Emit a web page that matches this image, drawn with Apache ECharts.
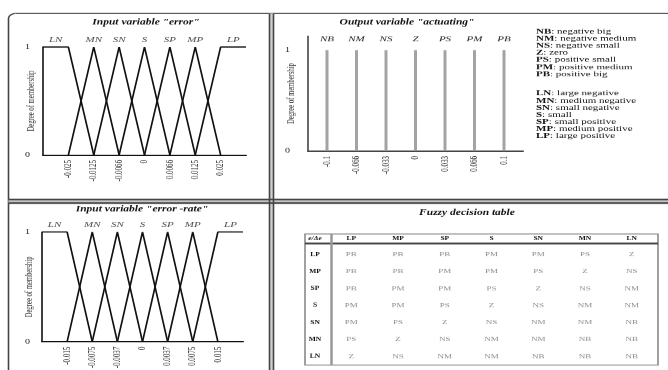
<!DOCTYPE html>
<html>
<head>
<meta charset="utf-8">
<script src="https://cdn.jsdelivr.net/npm/echarts@6/dist/echarts.min.js"></script>
<style>
  html, body { margin: 0; padding: 0; background: #fff; overflow: hidden; }
  #wrap { width: 668px; height: 370px; overflow: hidden; }
  #chart { width: 668px; transform-origin: 0 0; }
</style>
</head>
<body>
<div id="wrap"><div id="chart"></div></div>
<script>
// ---- data ----
const errorTerms = ['LN', 'MN', 'SN', 'S', 'SP', 'MP', 'LP'];
const errorTicks = ['-0.025', '-0.0125', '-0.0066', '0', '0.0066', '0.0125', '0.025'];
const rateTicks = ['-0.015', '-0.0075', '-0.0037', '0', '0.0037', '0.0075', '0.015'];
// membership function vertices: [tick position, degree]
const termVertices = [
  [[0, 1], [1, 1], [2, 0]],
  [[1, 0], [2, 1], [3, 0]],
  [[2, 0], [3, 1], [4, 0]],
  [[3, 0], [4, 1], [5, 0]],
  [[4, 0], [5, 1], [6, 0]],
  [[5, 0], [6, 1], [7, 0]],
  [[6, 0], [7, 1], [8, 1]]
];
const termLabelAt = [0.5, 2, 3, 4, 5, 6, 7.5];

const outputTerms = ['NB', 'NM', 'NS', 'Z', 'PS', 'PM', 'PB'];
const outputTicks = ['-0.1', '-0.066', '-0.033', '0', '0.033', '0.066', '0.1'];
const outputDegree = [1, 1, 1, 1, 1, 1, 1];

const outputLegend = [
  ['NB', 'negative big'], ['NM', 'negative medium'], ['NS', 'negative small'],
  ['Z', 'zero'], ['PS', 'positive small'], ['PM', 'positive medium'], ['PB', 'positive big']
];
const inputLegend = [
  ['LN', 'large negative'], ['MN', 'medium negative'], ['SN', 'small negative'],
  ['S', 'small'], ['SP', 'small positive'], ['MP', 'medium positive'], ['LP', 'large positive']
];

const tableCols = ['LP', 'MP', 'SP', 'S', 'SN', 'MN', 'LN'];
const tableRows = ['LP', 'MP', 'SP', 'S', 'SN', 'MN', 'LN'];
const ruleTable = [
  ['PB', 'PB', 'PB', 'PM', 'PM', 'PS', 'Z'],
  ['PB', 'PB', 'PM', 'PM', 'PS', 'Z', 'NS'],
  ['PB', 'PM', 'PM', 'PS', 'Z', 'NS', 'NM'],
  ['PM', 'PM', 'PS', 'Z', 'NS', 'NM', 'NM'],
  ['PM', 'PS', 'Z', 'NS', 'NM', 'NM', 'NB'],
  ['PS', 'Z', 'NS', 'NM', 'NM', 'NB', 'NB'],
  ['Z', 'NS', 'NM', 'NM', 'NB', 'NB', 'NB']
];

// ---- layout ----
// The figure is drawn taller and compressed vertically as a whole.
const SQ = 0.7;
const sy = v => v / SQ;
const chartEl = document.getElementById('chart');
chartEl.style.height = (370 / SQ) + 'px';
chartEl.style.transform = 'scaleY(' + SQ + ')';

const serif = '"Liberation Serif", "Times New Roman", serif';
const ink = '#111';

const chart = echarts.init(chartEl, null, { renderer: 'canvas' });

function memX(gi, ticks, min, max, lineColor) {
  return {
    gridIndex: gi, type: 'value', min: min, max: max,
    axisLine: { show: true, onZero: false, lineStyle: { color: lineColor, width: 2.2 } },
    axisTick: { show: false }, splitLine: { show: false },
    axisLabel: {
      customValues: [1, 2, 3, 4, 5, 6, 7],
      formatter: v => ticks[Math.round(v) - 1],
      rotate: 90, margin: 7, fontSize: 10, fontFamily: serif, color: '#222'
    }
  };
}
function memY(gi, max, nameGap, labelMargin, lineColor) {
  return {
    gridIndex: gi, type: 'value', min: 0, max: max,
    axisLine: { show: true, onZero: false, lineStyle: { color: lineColor, width: 1.6 } },
    axisTick: { show: false }, splitLine: { show: false },
    axisLabel: { customValues: [0, 1], margin: labelMargin, fontSize: 10, fontFamily: serif, color: '#222' },
    name: 'Degree of membership', nameLocation: 'middle', nameGap: nameGap,
    nameMoveOverlap: false,
    nameTextStyle: { fontSize: 9.5, fontFamily: serif, color: '#333' }
  };
}

const series = [];
function membershipSeries(gi) {
  termVertices.forEach(pts => {
    series.push({
      type: 'line', xAxisIndex: gi, yAxisIndex: gi, data: pts,
      symbol: 'none', clip: false, silent: true,
      lineStyle: { color: ink, width: 1.7 }
    });
  });
  series.push({
    type: 'scatter', xAxisIndex: gi, yAxisIndex: gi, clip: false, silent: true,
    data: termLabelAt.map((x, i) => [x, 1, errorTerms[i]]),
    symbolSize: 1, itemStyle: { color: 'rgba(0,0,0,0)' },
    label: {
      show: true, position: 'top', distance: 4, formatter: p => p.value[2],
      fontStyle: 'italic', fontSize: 11, fontFamily: serif, color: '#222'
    }
  });
}
membershipSeries(0);
membershipSeries(2);

series.push({
  type: 'bar', xAxisIndex: 1, yAxisIndex: 1, silent: true, z: 3,
  data: outputDegree.map((v, i) => [i + 1, v]),
  barWidth: 3, itemStyle: { color: '#a3a3a3' },
  label: {
    show: true, position: 'top', distance: 10,
    formatter: p => outputTerms[p.dataIndex],
    fontStyle: 'italic', fontSize: 11, fontFamily: serif, color: '#222'
  }
});

series.push({
  type: 'scatter', xAxisIndex: 3, yAxisIndex: 3, silent: true,
  data: ruleTable.flatMap((row, r) => row.map((t, c) => [c, r, t])),
  symbolSize: 1, itemStyle: { color: 'rgba(0,0,0,0)' },
  label: {
    show: true, position: 'inside', formatter: p => p.value[2],
    fontSize: 9, fontFamily: serif, color: '#707070'
  }
});

// ---- frame, dividers, titles, legend ----
const graphics = [];
graphics.push({ type: 'rect', z: 50, shape: { x: 8.5, y: sy(13.5), width: 720, height: 800, r: [7, 0, 0, 0] },
  style: { fill: 'none', stroke: '#444', lineWidth: 1.6 } });
graphics.push({ type: 'rect', z: 50, shape: { x: 269, y: sy(13.5), width: 5, height: 800 }, style: { fill: '#d0d0d0' } });
graphics.push({ type: 'rect', z: 50, shape: { x: 8.5, y: sy(199.5), width: 720, height: sy(3.5) }, style: { fill: '#d0d0d0' } });
[269.5, 273.5].forEach(x => graphics.push({ type: 'line', z: 51,
  shape: { x1: x, y1: sy(13.5), x2: x, y2: 800 }, style: { stroke: '#444', lineWidth: 1.6 } }));
[199.5, 203].forEach(yy => graphics.push({ type: 'line', z: 51,
  shape: { x1: 8.5, y1: sy(yy), x2: 720, y2: sy(yy) }, style: { stroke: '#444', lineWidth: 2.3 } }));

// table rules
graphics.push({ type: 'rect', z: 40, shape: { x: 305, y: sy(234), width: 353, height: sy(131) },
  style: { fill: 'none', stroke: '#8a8a8a', lineWidth: 1.6 } });
graphics.push({ type: 'line', z: 41, shape: { x1: 305, y1: sy(243.5), x2: 658, y2: sy(243.5) },
  style: { stroke: '#444', lineWidth: 2.6 } });
graphics.push({ type: 'line', z: 41, shape: { x1: 331.5, y1: sy(234), x2: 331.5, y2: sy(365) },
  style: { stroke: '#999', lineWidth: 2.5 } });
graphics.push({ type: 'text', z: 41, x: 315, y: sy(238.5),
  style: { text: 'e/Δe', font: 'italic bold 7.5px ' + serif, fill: ink, align: 'center', verticalAlign: 'middle' } });

const titleFont = 'italic bold 11.5px ' + serif;
[
  ['Input variable "error"', 146, 22.5],
  ['Output variable "actuating"', 407, 22.5],
  ['Input variable "error -rate"', 142, 209.5],
  ['Fuzzy decision table', 467, 212.5]
].forEach(t => graphics.push({ type: 'text', z: 41, x: t[1], y: sy(t[2]),
  style: { text: t[0], font: titleFont, fill: ink, align: 'center', verticalAlign: 'middle' } }));

function legendBlock(items, y0) {
  items.forEach((it, i) => graphics.push({
    type: 'text', z: 41, x: 536, y: sy(y0 + 7.1 * i),
    style: {
      text: '{b|' + it[0] + '}: ' + it[1],
      font: '11px ' + serif, fill: ink, verticalAlign: 'middle',
      rich: { b: { font: 'bold 11px ' + serif, fill: ink } }
    }
  }));
}
legendBlock(outputLegend, 31.5);
legendBlock(inputLegend, 93.5);

chart.setOption({
  animation: false,
  backgroundColor: '#fff',
  grid: [
    { left: 43, top: sy(47), width: 203, height: sy(108) },
    { left: 308, top: sy(36), width: 215, height: sy(115) },
    { left: 42, top: sy(232), width: 201, height: sy(110) },
    { left: 328, top: sy(246), width: 327, height: sy(119) }
  ],
  xAxis: [
    memX(0, errorTicks, 0, 8, ink),
    memX(1, outputTicks, 0.356, 7.644, '#444'),
    memX(2, rateTicks, 0, 8, ink),
    {
      gridIndex: 3, type: 'category', data: tableCols, position: 'top',
      axisLine: { show: false }, axisTick: { show: false }, splitLine: { show: false },
      axisLabel: { margin: 6, fontSize: 7.5, fontWeight: 'bold', fontFamily: serif, color: ink }
    }
  ],
  yAxis: [
    memY(0, 1, 7, 13, ink),
    memY(1, 1.14, 12, 18, '#444'),
    memY(2, 1, 8, 12, ink),
    {
      gridIndex: 3, type: 'category', data: tableRows, inverse: true,
      axisLine: { show: false }, axisTick: { show: false }, splitLine: { show: false },
      axisLabel: { margin: 13, align: 'center', fontSize: 7.5, fontWeight: 'bold', fontFamily: serif, color: ink }
    }
  ],
  series: series,
  graphic: graphics
});
</script>
</body>
</html>
